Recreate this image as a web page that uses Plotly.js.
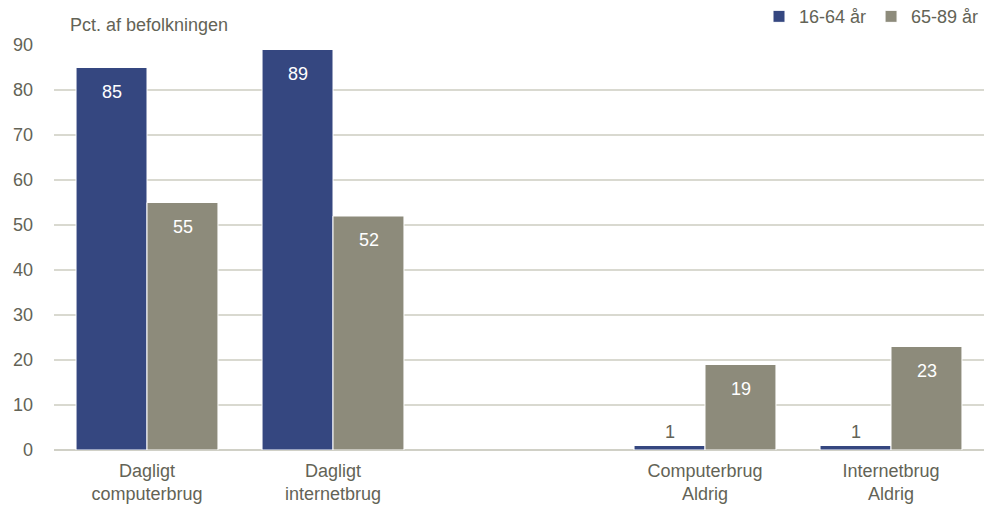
<!DOCTYPE html>
<html>
<head>
<meta charset="utf-8">
<script src="https://cdn.plot.ly/plotly-3.0.1.min.js"></script>
<style>html,body{margin:0;padding:0;background:#fff;}#chart{width:988px;height:514px;}</style>
</head>
<body>
<div id="chart"></div>
<script>
const categories = ["Dagligt<br>computerbrug", "Dagligt<br>internetbrug", " ", "Computerbrug<br>Aldrig", "Internetbrug<br>Aldrig"];
const seriesNames = ["16-64 år", "65-89 år"];
const young = [85, 89, null, 1, 1];
const old = [55, 52, null, 19, 23];
const yTicks = [0, 10, 20, 30, 40, 50, 60, 70, 80, 90];
const yAxisLabel = "Pct. af befolkningen";

const FONT = "'Liberation Sans Narrow', 'Arial Narrow', 'Liberation Sans', Arial, sans-serif";
const FS = 18;
const TXT = "#636356";
const colors = ["#354780", "#8d8b7b"];
const series = [young, old];

const traces = series.map((vals, i) => ({
  type: "bar",
  name: seriesNames[i],
  x: categories,
  y: vals,
  marker: {color: colors[i], line: {color: "#ffffff", width: 1}},
  hoverinfo: "skip"
}));

const annotations = [];
series.forEach((vals, i) => {
  vals.forEach((v, j) => {
    if (v === null) return;
    const inside = v >= 10;
    annotations.push({
      x: categories[j], y: v, xref: "x", yref: "y",
      text: String(v), showarrow: false,
      xshift: i === 0 ? -35.5 : 35.5,
      yanchor: inside ? "top" : "bottom",
      yshift: inside ? -12 : 2,
      font: {family: FONT, size: FS, color: inside ? "#ffffff" : TXT}
    });
  });
});
annotations.push({
  xref: "paper", yref: "paper", x: 0.015, y: 1.0, xanchor: "left", yanchor: "bottom",
  yshift: 8, text: yAxisLabel, showarrow: false,
  font: {family: FONT, size: FS, color: TXT}
});

const layout = {
  width: 988, height: 514,
  margin: {l: 54, r: 4, t: 45, b: 64, autoexpand: false},
  paper_bgcolor: "#ffffff", plot_bgcolor: "#ffffff",
  font: {family: FONT, size: FS, color: TXT},
  barmode: "group",
  bargap: 0.237,
  bargroupgap: 0,
  showlegend: true,
  legend: {
    orientation: "h", x: 1.0, xanchor: "right", y: 1.07, yanchor: "middle",
    font: {family: FONT, size: FS, color: TXT}, itemwidth: 30, traceorder: "normal",
    tracegroupgap: 0
  },
  xaxis: {
    type: "category", categoryorder: "array", categoryarray: categories,
    showgrid: false, zeroline: false, showline: false, ticks: "",
    tickfont: {family: FONT, size: FS, color: TXT}, ticklabelstandoff: 8
  },
  yaxis: {
    range: [0, 90], tickvals: yTicks, ticktext: yTicks.map(String),
    showgrid: true, gridcolor: "#d9d9d0", gridwidth: 1.3,
    zeroline: true, zerolinecolor: "#d0d0c6", zerolinewidth: 1.5,
    showline: false, ticks: "",
    tickfont: {family: FONT, size: FS, color: TXT}, ticklabelstandoff: 20
  },
  annotations: annotations
};

Plotly.newPlot("chart", traces, layout, {staticPlot: true, displayModeBar: false});
</script>
</body>
</html>
